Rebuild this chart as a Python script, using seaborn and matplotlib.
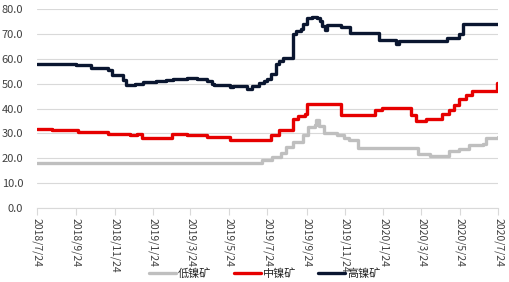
import matplotlib
matplotlib.use("Agg")
import matplotlib.pyplot as plt
import matplotlib.dates as mdates
import matplotlib.ticker as mticker
import pandas as pd
import seaborn as sns

sns.set_theme(style="white")
plt.rcParams['font.family'] = ['Noto Sans CJK SC', 'DejaVu Sans']

# ---- data (change points of step series) ----
low_dates = ["2018-07-24", "2019-07-16", "2019-08-01", "2019-08-15", "2019-08-23", "2019-09-02",
             "2019-09-18", "2019-09-27", "2019-10-07", "2019-10-09", "2019-10-14", "2019-10-22",
             "2019-11-12", "2019-11-23", "2019-12-01", "2019-12-15", "2020-03-19", "2020-04-06",
             "2020-05-07", "2020-05-23", "2020-06-08", "2020-06-29", "2020-07-05", "2020-07-24"]
low_vals = [18.0, 19.3, 20.5, 22.1, 24.5, 26.5, 29.2, 32.5, 33.5, 35.5, 33.0, 30.1,
            29.2, 28.3, 27.5, 24.1, 21.6, 21.1, 22.9, 23.9, 25.2, 25.9, 28.1, 28.5]

mid_dates = ["2018-07-24", "2018-08-16", "2018-09-26", "2018-11-13", "2018-12-18", "2018-12-29",
             "2019-01-06", "2019-02-22", "2019-03-18", "2019-04-20", "2019-05-25", "2019-07-30",
             "2019-08-12", "2019-09-02", "2019-09-10", "2019-09-21", "2019-09-25", "2019-11-18",
             "2020-01-10", "2020-01-22", "2020-03-08", "2020-03-16", "2020-04-01", "2020-04-26",
             "2020-05-07", "2020-05-15", "2020-05-23", "2020-06-03", "2020-06-13", "2020-07-22",
             "2020-07-24"]
mid_vals = [31.6, 31.2, 30.4, 29.9, 29.5, 29.9, 28.3, 29.9, 29.5, 28.5, 27.5, 29.2,
            31.2, 35.9, 37.2, 37.9, 41.9, 37.6, 39.5, 40.3, 37.5, 35.2, 36.0, 37.9,
            39.5, 41.5, 43.9, 45.5, 47.2, 50.1, 50.1]

high_dates = ["2018-07-24", "2018-09-24", "2018-10-18", "2018-11-14", "2018-11-20", "2018-12-07",
              "2018-12-12", "2018-12-26", "2019-01-07", "2019-01-29", "2019-02-14", "2019-02-24",
              "2019-03-18", "2019-04-03", "2019-04-19", "2019-04-27", "2019-05-01", "2019-05-25",
              "2019-05-30", "2019-06-21", "2019-06-29", "2019-07-11", "2019-07-19", "2019-07-24",
              "2019-07-30", "2019-08-07", "2019-08-12", "2019-08-17", "2019-09-03", "2019-09-08",
              "2019-09-16", "2019-09-19", "2019-09-24", "2019-10-02", "2019-10-11", "2019-10-16",
              "2019-10-19", "2019-10-24", "2019-10-27", "2019-11-18", "2019-12-02", "2020-01-17",
              "2020-02-13", "2020-02-17", "2020-05-03", "2020-05-23", "2020-05-29", "2020-07-24"]
high_vals = [58.1, 57.6, 56.5, 55.5, 53.6, 51.5, 49.6, 50.0, 50.5, 50.9, 51.5, 51.9,
             52.3, 51.7, 51.0, 50.0, 49.6, 48.5, 49.2, 47.9, 49.2, 50.1, 51.0, 51.9,
             53.9, 57.9, 59.2, 60.3, 69.9, 71.2, 71.9, 73.9, 76.3, 76.9, 76.3, 75.0,
             73.2, 71.5, 73.6, 72.8, 70.4, 67.7, 65.9, 67.0, 68.5, 69.9, 73.9, 73.9]

series_names = ["低镍矿", "中镍矿", "高镍矿"]
series_colors = ["#BFBFBF", "#E60000", "#0A1630"]
tick_dates = ["2018-07-24", "2018-09-24", "2018-11-24", "2019-01-24", "2019-03-24", "2019-05-24",
              "2019-07-24", "2019-09-24", "2019-11-24", "2020-01-24", "2020-03-24", "2020-05-24",
              "2020-07-24"]
tick_labels = ["2018/7/24", "2018/9/24", "2018/11/24", "2019/1/24", "2019/3/24", "2019/5/24",
               "2019/7/24", "2019/9/24", "2019/11/24", "2020/1/24", "2020/3/24", "2020/5/24",
               "2020/7/24"]
y_ticks = [0, 10, 20, 30, 40, 50, 60, 70, 80]

frames = []
for name, d, v in zip(series_names, [low_dates, mid_dates, high_dates], [low_vals, mid_vals, high_vals]):
    frames.append(pd.DataFrame({"date": pd.to_datetime(d), "value": v, "series": name}))
df = pd.concat(frames, ignore_index=True)

fig, ax = plt.subplots(figsize=(5.09, 2.82), dpi=100)
fig.subplots_adjust(left=0.073, right=0.979, top=0.968, bottom=0.262)

sns.lineplot(data=df, x="date", y="value", hue="series", hue_order=series_names,
             palette=series_colors, drawstyle="steps-post", linewidth=2.4, ax=ax,
             estimator=None, sort=False)

ax.set_xlim(pd.Timestamp(tick_dates[0]), pd.Timestamp(tick_dates[-1]))
ax.set_ylim(0, 80)
ax.set_yticks(y_ticks)
ax.yaxis.set_major_formatter(mticker.FormatStrFormatter("%.1f"))
ax.set_xticks(pd.to_datetime(tick_dates))
ax.set_xticklabels(tick_labels, rotation=270, fontsize=7.5, color="#404040")
ax.tick_params(axis="y", labelsize=8, labelcolor="#404040", length=0, pad=10)
ax.tick_params(axis="x", length=5, width=0.8, color="#D9D9D9", pad=2, bottom=True)
ax.set_xlabel("")
ax.set_ylabel("")
ax.grid(axis="y", color="#D9D9D9", linewidth=0.8)
ax.grid(axis="x", visible=False)
for s in ["top", "right", "left"]:
    ax.spines[s].set_visible(False)
ax.spines["bottom"].set_color("#D9D9D9")
ax.spines["bottom"].set_linewidth(0.8)

ax.legend(loc="center", bbox_to_anchor=(0.494, -0.33), ncol=3, frameon=False, fontsize=8,
          handlelength=2.4, handletextpad=0.2, columnspacing=2.0, borderaxespad=0)

fig.savefig("out.png", dpi=100)
